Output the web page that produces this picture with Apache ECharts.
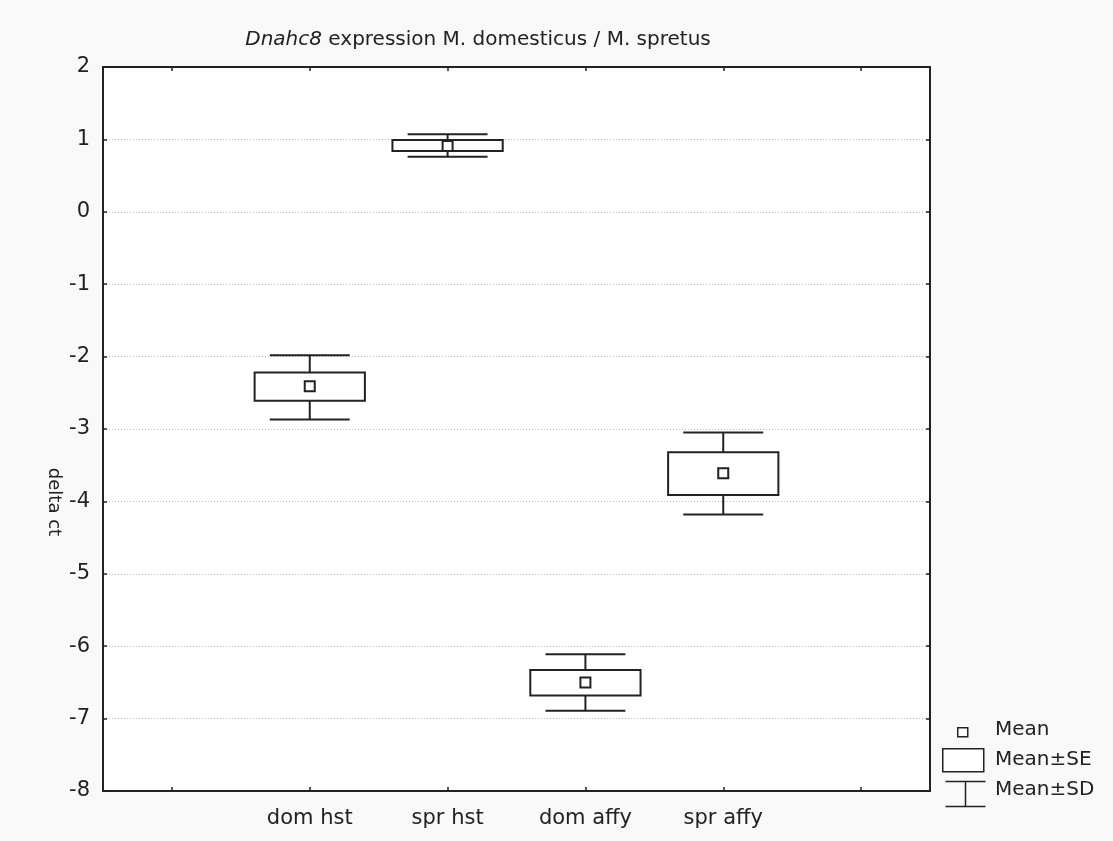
<!DOCTYPE html>
<html>
<head>
<meta charset="utf-8">
<script src="https://cdn.jsdelivr.net/npm/echarts@6/dist/echarts.min.js"></script>
<style>
html,body{margin:0;padding:0;background:#f9f9f9;}
#chart{width:1113px;height:841px;}
</style>
</head>
<body>
<div id="chart"></div>
<script>
// data
var categories = ['', 'dom hst', 'spr hst', 'dom affy', 'spr affy', ''];
var groupIndex = [1, 2, 3, 4];
var means  = [-2.41, 0.91, -6.50, -3.61];
var seLow  = [-2.61, 0.84, -6.68, -3.91];
var seHigh = [-2.22, 0.99, -6.33, -3.32];
var sdLow  = [-2.87, 0.76, -6.89, -4.18];
var sdHigh = [-1.98, 1.07, -6.11, -3.05];
var yTicks = [-8, -7, -6, -5, -4, -3, -2, -1, 0, 1, 2];

var font = 'DejaVu Sans, sans-serif';
var ink = '#222';

var rows = [];
for (var i = 0; i < groupIndex.length; i++) {
	rows.push([groupIndex[i], means[i], seLow[i], seHigh[i], sdLow[i], sdHigh[i]]);
}

function renderBox(params, api) {
	var x = api.value(0);
	var band = api.size([1, 0])[0];
	var pMean = api.coord([x, api.value(1)]);
	var pSeLo = api.coord([x, api.value(2)]);
	var pSeHi = api.coord([x, api.value(3)]);
	var pSdLo = api.coord([x, api.value(4)]);
	var pSdHi = api.coord([x, api.value(5)]);
	var bw = band * 0.8, cw = band * 0.58, ms = 10;
	var cx = pMean[0];
	var st = {stroke: ink, lineWidth: 2, fill: null};
	return {
		type: 'group',
		children: [
			{type: 'line', shape: {x1: cx - cw / 2, y1: pSdHi[1], x2: cx + cw / 2, y2: pSdHi[1]}, style: st},
			{type: 'line', shape: {x1: cx - cw / 2, y1: pSdLo[1], x2: cx + cw / 2, y2: pSdLo[1]}, style: st},
			{type: 'line', shape: {x1: cx, y1: pSdHi[1], x2: cx, y2: pSeHi[1]}, style: st},
			{type: 'line', shape: {x1: cx, y1: pSeLo[1], x2: cx, y2: pSdLo[1]}, style: st},
			{type: 'rect', shape: {x: cx - bw / 2, y: pSeHi[1], width: bw, height: pSeLo[1] - pSeHi[1]}, style: {stroke: ink, lineWidth: 2, fill: '#fff'}},
			{type: 'rect', shape: {x: cx - ms / 2, y: pMean[1] - ms / 2, width: ms, height: ms}, style: {stroke: ink, lineWidth: 2, fill: '#fff'}}
		]
	};
}

var tickStyle = {show: true, inside: true, length: 4, lineStyle: {color: ink, width: 1.5}};

var chart = echarts.init(document.getElementById('chart'));
var option = {
	backgroundColor: '#f9f9f9',
	animation: false,
	title: {
		text: '{it|Dnahc8} expression M. domesticus / M. spretus',
		left: 473,
		top: 25,
		textAlign: 'center',
		textStyle: {
			fontFamily: font, fontSize: 20, fontWeight: 'normal', color: ink,
			rich: {it: {fontFamily: font, fontSize: 20, fontStyle: 'italic', color: ink}}
		}
	},
	grid: {
		left: 103, right: 183, top: 67, bottom: 50,
		show: true, backgroundColor: '#fff', borderColor: ink, borderWidth: 2
	},
	xAxis: [{
		type: 'category',
		data: categories,
		boundaryGap: true,
		axisLine: {onZero: false, lineStyle: {color: ink, width: 2}},
		axisTick: {show: true, alignWithLabel: true, inside: true, length: 4, lineStyle: {color: ink, width: 1.5}},
		axisLabel: {fontFamily: font, fontSize: 21, color: ink, margin: 17},
		splitLine: {show: false}
	}, {
		type: 'category',
		position: 'top',
		data: categories,
		boundaryGap: true,
		axisLine: {onZero: false, lineStyle: {color: ink, width: 2}},
		axisTick: {show: true, alignWithLabel: true, inside: true, length: 4, lineStyle: {color: ink, width: 1.5}},
		axisLabel: {show: false},
		splitLine: {show: false}
	}],
	yAxis: [{
		type: 'value',
		min: yTicks[0], max: yTicks[yTicks.length - 1], interval: 1,
		axisLine: {show: true, onZero: false, lineStyle: {color: ink, width: 2}},
		axisTick: tickStyle,
		axisLabel: {fontFamily: font, fontSize: 21, color: ink, margin: 13},
		splitLine: {show: true, lineStyle: {color: '#b8b8b8', type: [1, 2], width: 1}}
	}, {
		type: 'value',
		position: 'right',
		min: yTicks[0], max: yTicks[yTicks.length - 1], interval: 1,
		axisLine: {show: true, onZero: false, lineStyle: {color: ink, width: 2}},
		axisTick: tickStyle,
		axisLabel: {show: false},
		splitLine: {show: false}
	}],
	series: [{
		type: 'custom',
		renderItem: renderBox,
		encode: {x: 0, y: [1, 2, 3, 4, 5]},
		data: rows,
		z: 5
	}],
	graphic: [
		// y axis title, set below the middle as in the original
		{type: 'text', x: 54, y: 502, rotation: -Math.PI / 2,
			style: {text: 'delta ct', fontFamily: font, fontSize: 18, fill: ink, align: 'center', verticalAlign: 'middle'}},
		// legend
		{type: 'rect', left: 957, top: 727, shape: {width: 10, height: 9}, style: {stroke: ink, lineWidth: 1.5, fill: '#fff'}},
		{type: 'text', left: 995, top: 720, style: {text: 'Mean', fontFamily: font, fontSize: 20, fill: ink}},
		{type: 'rect', left: 942, top: 748, shape: {width: 41, height: 23}, style: {stroke: ink, lineWidth: 1.5, fill: '#fff'}},
		{type: 'text', left: 995, top: 750, style: {text: 'Mean±SE', fontFamily: font, fontSize: 20, fill: ink}},
		{type: 'group', left: 943, top: 779, children: [
			{type: 'line', shape: {x1: 0, y1: 0, x2: 40, y2: 0}, style: {stroke: ink, lineWidth: 1.5}},
			{type: 'line', shape: {x1: 20, y1: 0, x2: 20, y2: 25}, style: {stroke: ink, lineWidth: 1.5}},
			{type: 'line', shape: {x1: 0, y1: 25, x2: 40, y2: 25}, style: {stroke: ink, lineWidth: 1.5}}
		]},
		{type: 'text', left: 995, top: 780, style: {text: 'Mean±SD', fontFamily: font, fontSize: 20, fill: ink}}
	]
};
chart.setOption(option);
</script>
</body>
</html>
